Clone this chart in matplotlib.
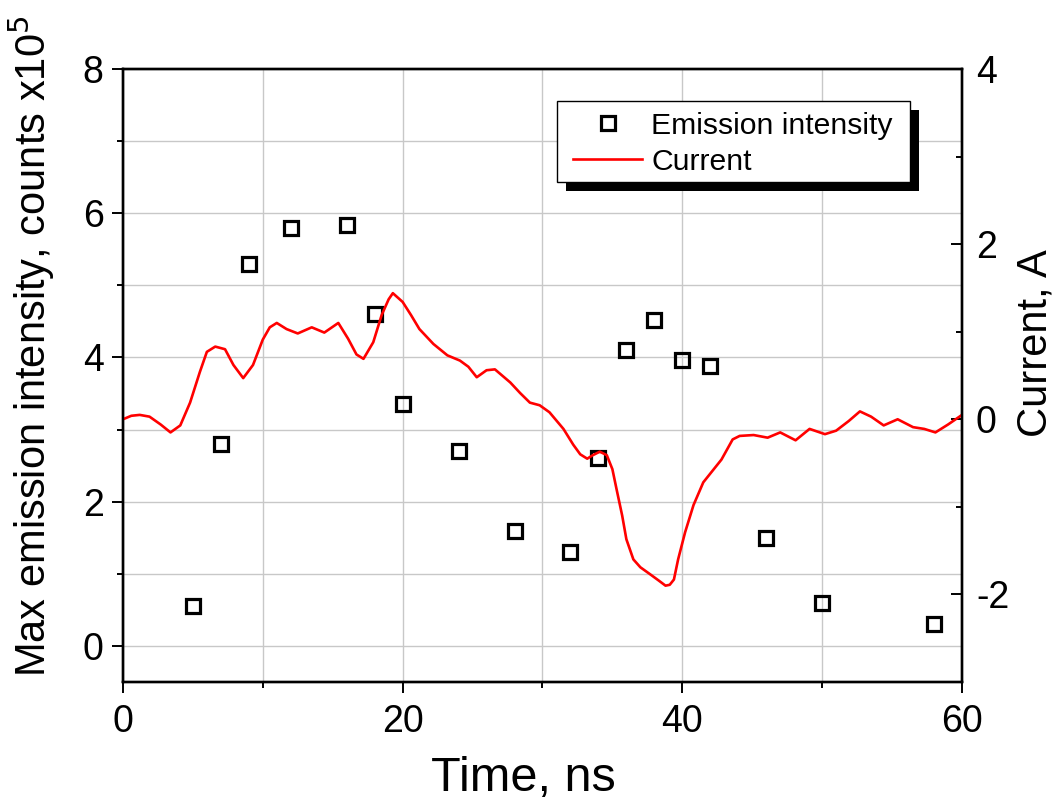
import numpy as np
import matplotlib
matplotlib.use("Agg")
import matplotlib.pyplot as plt
from matplotlib.patches import Rectangle
from matplotlib.ticker import MultipleLocator

plt.rcParams['font.family'] = ['Liberation Sans', 'DejaVu Sans']
plt.rcParams['axes.unicode_minus'] = False

# emission intensity (x1e5 counts) vs time
em_time = [5, 7, 9, 12, 16, 18, 20, 24, 28, 32, 34, 36, 38, 40, 42, 46, 50, 58]
em_int = [0.55, 2.8, 5.3, 5.8, 5.83, 4.6, 3.35, 2.7, 1.6, 1.3, 2.6, 4.1, 4.52,
          3.97, 3.88, 1.5, 0.6, 0.3]

# current trace (A) vs time
cur_time = [0.0, 0.6, 1.2, 1.9, 2.7, 3.4, 4.1, 4.8, 5.5, 6.0, 6.6, 7.3, 7.9,
            8.6, 9.3, 10.0, 10.5, 11.0, 11.7, 12.5, 13.5, 14.4, 15.4, 16.1,
            16.7, 17.2, 17.9, 18.5, 19.0, 19.3, 20.0, 20.6, 21.2, 22.2, 23.2,
            24.1, 24.7, 25.3, 26.0, 26.6, 27.7, 28.4, 29.1, 29.8, 30.5, 31.5,
            32.2, 32.7, 33.2, 33.6, 34.1, 34.6, 35.0, 35.3, 35.7, 36.0, 36.5,
            37.0, 37.7, 38.3, 38.8, 39.1, 39.4, 39.7, 40.2, 40.8, 41.5, 42.2,
            42.8, 43.6, 44.1, 45.1, 46.1, 47.0, 48.1, 49.1, 50.2, 51.0, 51.9,
            52.7, 53.5, 54.4, 55.4, 56.5, 57.3, 58.1, 59.0, 60.0]
cur_val = [0.0, 0.04, 0.05, 0.03, -0.06, -0.15, -0.07, 0.19, 0.54, 0.77, 0.83,
           0.80, 0.62, 0.47, 0.62, 0.91, 1.05, 1.10, 1.03, 0.98, 1.05, 0.99,
           1.10, 0.92, 0.74, 0.69, 0.88, 1.19, 1.37, 1.44, 1.34, 1.19, 1.03,
           0.86, 0.73, 0.67, 0.60, 0.48, 0.56, 0.57, 0.42, 0.30, 0.19, 0.16,
           0.08, -0.11, -0.29, -0.40, -0.45, -0.41, -0.37, -0.41, -0.57,
           -0.80, -1.10, -1.37, -1.60, -1.69, -1.77, -1.84, -1.90, -1.89,
           -1.83, -1.60, -1.29, -0.98, -0.72, -0.58, -0.46, -0.23, -0.19,
           -0.18, -0.21, -0.15, -0.24, -0.11, -0.17, -0.13, -0.02, 0.09, 0.03,
           -0.07, 0.0, -0.09, -0.11, -0.15, -0.06, 0.05]

fig = plt.figure(figsize=(10.59, 8.05), dpi=100)
ax = fig.add_axes([0.1161, 0.1528, 0.7923, 0.7615])
ax2 = ax.twinx()

ax.set_xlim(0, 60)
ax.set_ylim(-0.5, 8)
ax2.set_ylim(-3, 4)

ax.xaxis.set_major_locator(MultipleLocator(20))
ax.xaxis.set_minor_locator(MultipleLocator(10))
ax.yaxis.set_major_locator(MultipleLocator(2))
ax.yaxis.set_minor_locator(MultipleLocator(1))
ax2.yaxis.set_major_locator(MultipleLocator(2))
ax2.yaxis.set_minor_locator(MultipleLocator(1))

ax.grid(True, which='both', color='#c8c8c8', linewidth=1.0)
ax.set_axisbelow(True)

for a in (ax, ax2):
    for s in a.spines.values():
        s.set_linewidth(1.7)

ax.tick_params(which='major', length=8, width=1.4, labelsize=27, direction='out',
               top=False, right=False)
ax.tick_params(which='minor', length=4.5, width=1.4, direction='out',
               top=False, right=False)
ax2.tick_params(which='major', length=8, width=1.4, labelsize=27, direction='in')
ax2.tick_params(which='minor', length=4.5, width=1.4, direction='in')
ax.tick_params(axis='x', pad=8)
ax.tick_params(axis='y', pad=6)
ax2.tick_params(axis='y', pad=10)

line, = ax2.plot(cur_time, cur_val, color='red', linewidth=1.9,
                 solid_joinstyle='round', label='Current')
pts, = ax.plot(em_time, em_int, linestyle='none', marker='s', markersize=10.5,
               markerfacecolor='none', markeredgecolor='black',
               markeredgewidth=2.3, label='Emission intensity')

ax.set_xlabel('Time, ns', fontsize=35)
ax.xaxis.set_label_coords(0.477, -0.12)
ax.set_ylabel('Max emission intensity, counts x10$^5$', fontsize=30)
ax.yaxis.set_label_coords(-0.079, 0.548)
ax2.set_ylabel('Current, A', fontsize=30)
ax2.yaxis.set_label_coords(1.064, 0.553)

# legend box with offset black shadow, drawn by hand
box = (0.5173, 0.8157, 0.4207, 0.1321)
ax2.add_patch(Rectangle((box[0] + 9 / 839, box[1] - 9 / 613), box[2], box[3],
                        transform=ax2.transAxes, facecolor='black',
                        edgecolor='none', zorder=4.4, clip_on=False))
ax2.add_patch(Rectangle((box[0], box[1]), box[2], box[3],
                        transform=ax2.transAxes, facecolor='white',
                        edgecolor='black', linewidth=1.0, zorder=4.5,
                        clip_on=False))
leg = ax2.legend([pts, line], ['Emission intensity', 'Current'], loc='center left',
                 bbox_to_anchor=(0.5364, 0.878), borderaxespad=0, borderpad=0,
                 fontsize=21.7, frameon=False, handlelength=2.3,
                 handletextpad=0.3, labelspacing=0.28)
leg.set_zorder(5)

fig.savefig('out.png', dpi=100)
